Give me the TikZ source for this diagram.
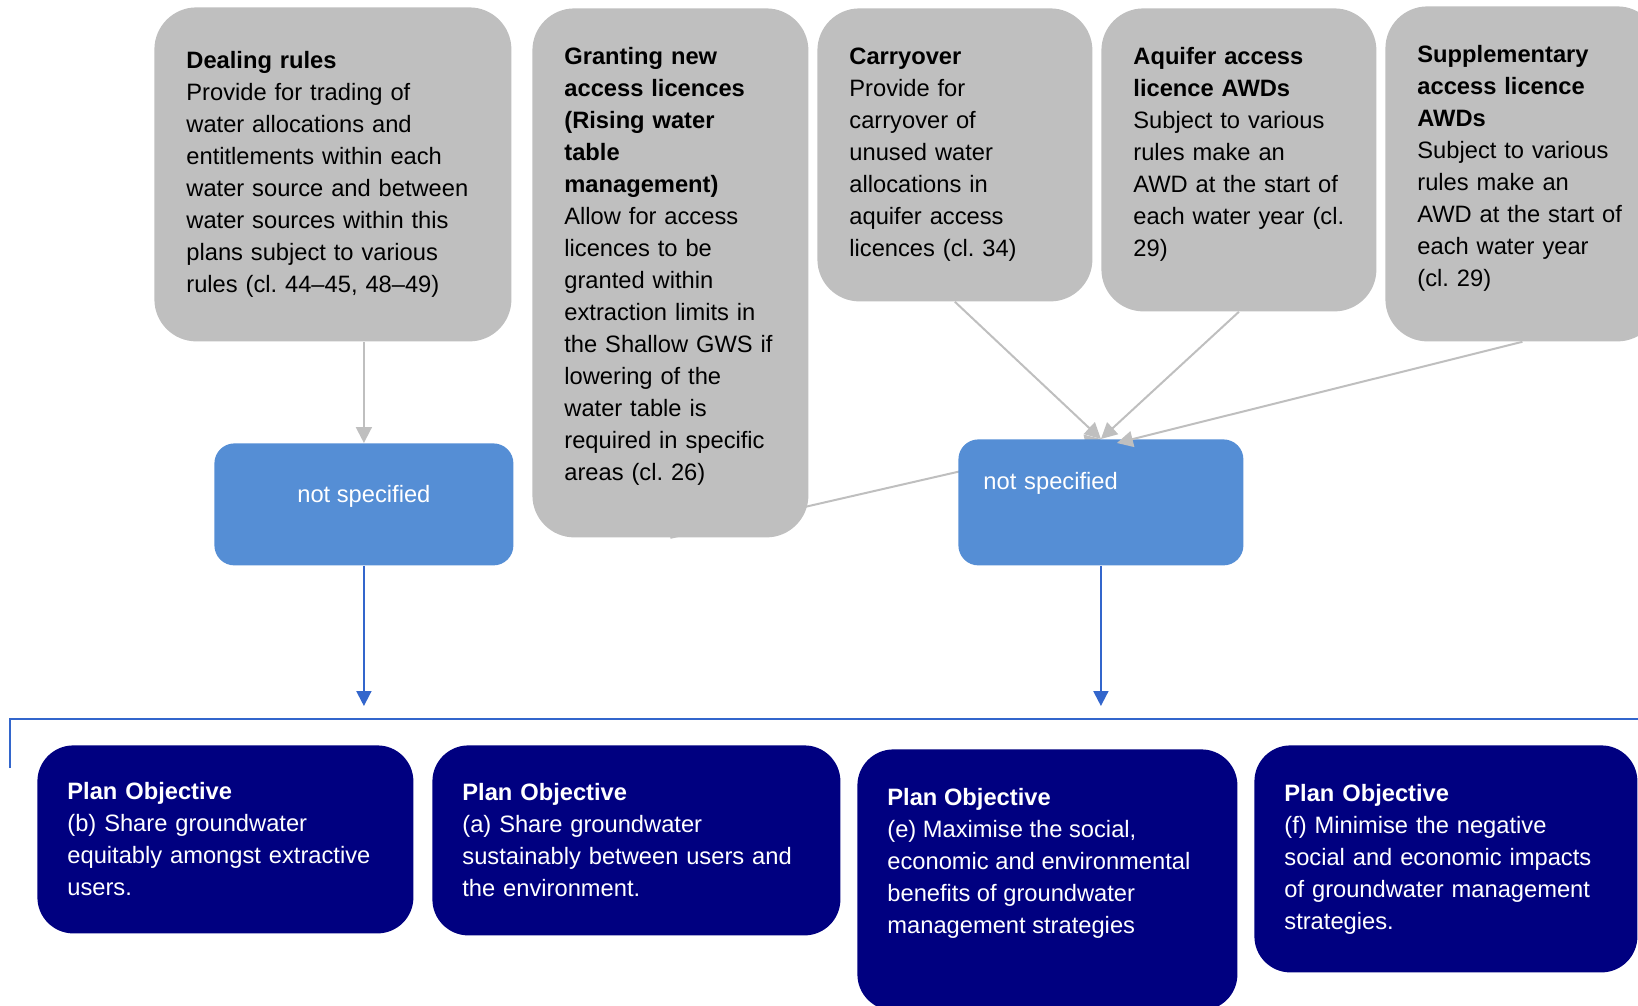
\documentclass[tikz,border=0pt]{standalone}
\usepackage{fontspec}
\setmainfont{Liberation Sans}
\usepackage{tikz}
\usetikzlibrary{arrows.meta,positioning,backgrounds}
\frenchspacing
\definecolor{ruleGrey}{HTML}{BFBFBF}
\definecolor{nsBlue}{HTML}{558ED5}
\definecolor{objNavy}{HTML}{000080}
\definecolor{linkBlue}{HTML}{3366CC}
\tikzset{
    ruleBox/.style={
        rectangle,
        rounded corners=21pt,
        fill=ruleGrey,
        align=left,
        inner xsep=16pt,
        anchor=north west
    },
    % first line 28pt below the top edge
    ruleTop/.style={inner ysep=0pt, text height=28pt, text depth=#1-28pt},
    nsBox/.style={rectangle, rounded corners=10pt, fill=nsBlue, text=white, anchor=north west},
    objBox/.style={
        rectangle,
        rounded corners=18pt,
        fill=objNavy,
        text=white,
        align=left,
        inner xsep=15pt,
        anchor=north west
    },
    % Arrows
    ruleArrow/.style={-{Triangle[width=8pt,length=8pt]}, line width=1pt, draw=ruleGrey},
    objArrow/.style={-{Triangle[width=7.5pt,length=7.5pt]}, line width=1pt, draw=linkBlue}
}

\begin{document}
\begin{tikzpicture}[x=0.5pt, y=-0.5pt, font=\fontsize{11.85}{16}\selectfont]
\useasboundingbox (0,0) rectangle (1638,1006);
\clip (0,0) rectangle (1638,1006);

% Rules
\node[ruleBox, text width=146.5pt, minimum height=167pt] (dealing) at (154,7)
    {\textbf{Dealing rules}\\Provide for trading of\\water allocations and\\entitlements within each\\water source and between\\water sources within this\\plans subject to various\\rules (cl. 44--45, 48--49)};
\node[ruleBox, text width=106pt, ruleTop=264.5pt] (granting) at (532,8)
    {\textbf{Granting new}\\\textbf{access licences}\\\textbf{(Rising water}\\\textbf{table}\\\textbf{management)}\\Allow for access\\licences to be\\granted within\\extraction limits in\\the Shallow GWS if\\lowering of the\\water table is\\required in specific\\areas (cl. 26)};
\node[ruleBox, text width=105.5pt, ruleTop=146.5pt] (carry) at (817,8)
    {\textbf{Carryover}\\Provide for\\carryover of\\unused water\\allocations in\\aquifer access\\licences (cl. 34)};
\node[ruleBox, text width=105.5pt, ruleTop=151.5pt] (aquifer) at (1101,8)
    {\textbf{Aquifer access}\\\textbf{licence AWDs}\\Subject to various\\rules make an\\AWD at the start of\\each water year (cl.\\29)};
\node[ruleBox, text width=105pt, ruleTop=167.5pt] (supp) at (1385,6)
    {\textbf{Supplementary}\\\textbf{access licence}\\\textbf{AWDs}\\Subject to various\\rules make an\\AWD at the start of\\each water year\\(cl. 29)};

% Not specified
\node[nsBox, minimum width=149.5pt, inner ysep=0pt, text height=29.5pt, text depth=31.5pt] (ns1) at (214,443) {not specified};
\node[nsBox, align=left, text width=117.5pt, inner xsep=12.5pt, inner ysep=0pt,
    text height=25pt, text depth=38pt] (ns2) at (958,439) {not specified};

% Plan objectives
\node[objBox, text width=158pt, minimum height=94pt] (obj1) at (37,745)
    {\textbf{Plan Objective}\\(b) Share groundwater\\equitably amongst extractive\\users.};
\node[objBox, text width=174pt, minimum height=95pt] (obj2) at (432,745)
    {\textbf{Plan Objective}\\(a) Share groundwater\\sustainably between users and\\the environment.};
\node[objBox, inner ysep=0pt, text height=28pt, text depth=102.5pt] (obj3) at (857,749)
    {\parbox[t]{160pt}{\textbf{Plan Objective}\\(e) Maximise the social,\\economic and environmental\\benefits of groundwater\\management strategies}};
\node[objBox, text width=161.5pt, minimum height=113.5pt] (obj4) at (1254,745)
    {\textbf{Plan Objective}\\(f) Minimise the negative\\social and economic impacts\\of groundwater management\\strategies.};

% Connectors
\begin{scope}[on background layer]
\draw[ruleArrow] (granting.south) -- (ns2.north);
\end{scope}
\draw[ruleArrow] (dealing.south -| ns1.north) -- (ns1.north);
\draw[ruleArrow] (carry.south) -- (ns2.north);
\draw[ruleArrow] (aquifer.south) -- (ns2.north);
\draw[ruleArrow] (supp.south) -- ([xshift=8pt,yshift=-2pt]ns2.north);

\coordinate (tipRow) at (0,706);
\draw[objArrow] (ns1.south) -- (ns1.south |- tipRow);
\draw[objArrow] (ns2.south) -- (ns2.south |- tipRow);

% Objectives frame
\coordinate (frameFoot) at (10,768);
\coordinate (frameCorner) at (10,719);
\coordinate (frameEnd) at (1645,719);
\draw[line width=1pt, linkBlue] (frameFoot) -- (frameCorner) -- (frameEnd);
\end{tikzpicture}
\end{document}
